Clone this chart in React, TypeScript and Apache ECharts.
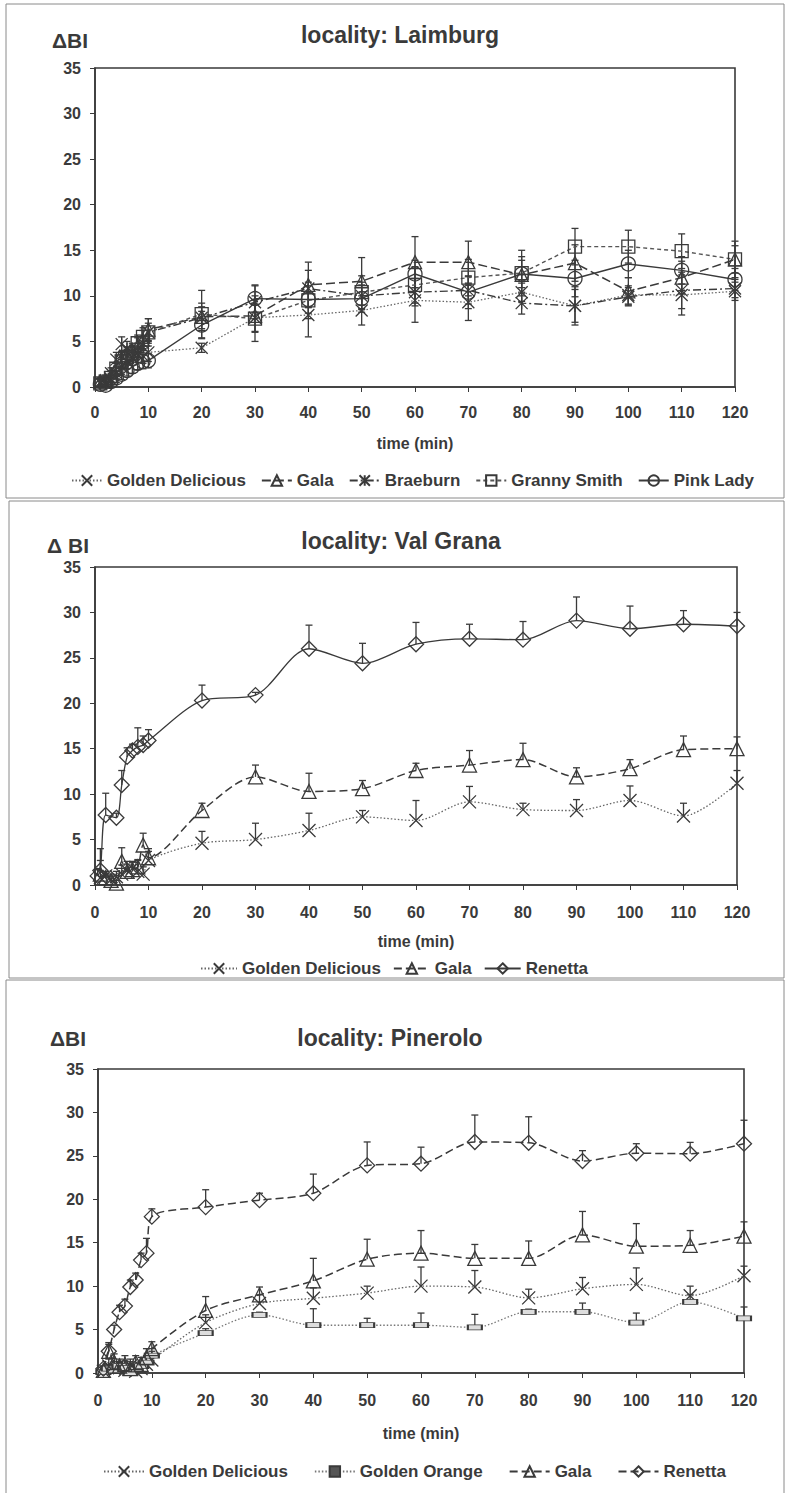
import React, { useEffect, useRef } from "react";
import * as echarts from "echarts";

// ---------- data ----------
const EARLY_TIMES = [1, 2, 3, 4, 5, 6, 7, 8, 9, 10];
const LATE_TIMES = [20, 30, 40, 50, 60, 70, 80, 90, 100, 110, 120];
const TIMES = [...EARLY_TIMES, ...LATE_TIMES];
const RENETTA_VG_TIMES = [0.5, 1, 2, 4, 5, 6, 7, 8, 9, 10, ...LATE_TIMES];

const X_LABEL = "time (min)";
const TITLES = ["locality: Laimburg", "locality: Val Grana", "locality: Pinerolo"];
const Y_NAMES = ["ΔBI", "Δ BI", "ΔBI"];

// Laimburg
const p1GoldenDelicious = [0.5, 0.4, 0.8, 1.5, 2.2, 2.8, 3.2, 3.5, 3.4, 3.8, 4.3, 7.6, 7.9, 8.4, 9.5, 9.3, 10.4, 8.9, 10.1, 10.1, 10.5];
const p1GoldenDeliciousErr = [0.4, 0.4, 0.5, 0.6, 0.8, 0.8, 0.8, 0.8, 0.8, 1.0, 0.5, 1.5, 2.4, 1.6, 2.4, 2.0, 1.0, 2.1, 1.0, 2.2, 1.0];
const p1Gala = [0.6, 0.8, 1.2, 2.0, 3.0, 3.5, 4.0, 4.5, 5.2, 6.3, 7.7, 7.8, 11.2, 11.6, 13.7, 13.7, 12.3, 13.6, 10.5, 12.0, 14.0];
const p1GalaErr = [0.4, 0.5, 0.6, 0.6, 0.8, 0.8, 0.8, 0.9, 1.0, 1.2, 1.5, 1.8, 2.5, 2.6, 2.8, 2.3, 2.0, 2.0, 1.5, 1.8, 1.5];
const p1Braeburn = [0.5, 0.7, 1.5, 3.0, 4.7, 4.2, 3.8, 4.0, 4.8, 6.0, 7.6, 9.3, 10.8, 10.0, 10.4, 10.6, 9.2, 8.9, 9.9, 10.6, 10.8];
const p1BraeburnErr = [0.4, 0.5, 0.6, 0.8, 0.8, 0.8, 0.8, 0.8, 0.8, 1.0, 1.2, 1.8, 2.0, 1.5, 1.5, 1.5, 1.2, 1.8, 1.0, 2.0, 1.0];
const p1GrannySmith = [0.4, 0.6, 1.0, 2.0, 2.8, 3.3, 3.7, 4.8, 5.5, 6.0, 8.0, 7.5, 9.5, 10.4, 11.2, 12.0, 12.5, 15.4, 15.4, 14.9, 14.0];
const p1GrannySmithErr = [0.4, 0.5, 0.5, 0.6, 0.8, 0.8, 0.8, 0.9, 1.0, 1.5, 2.6, 2.5, 2.0, 1.8, 2.0, 2.0, 2.5, 2.0, 1.8, 1.9, 2.0];
const p1PinkLady = [0.3, 0.2, 0.6, 1.0, 1.4, 1.8, 2.2, 2.6, 2.8, 2.9, 6.8, 9.7, 9.6, 9.7, 12.4, 10.4, 12.4, 11.9, 13.5, 12.8, 11.8];
const p1PinkLadyErr = [0.3, 0.3, 0.4, 0.5, 0.6, 0.6, 0.7, 0.7, 0.8, 0.8, 1.5, 1.5, 1.5, 1.5, 1.5, 1.8, 1.5, 2.0, 1.5, 1.5, 1.2];

// Val Grana
const p2GoldenDelicious = [0.8, 1.0, 0.6, 0.9, 1.2, 1.6, 1.8, 1.5, 1.2, 2.7, 4.6, 5.0, 6.0, 7.5, 7.1, 9.15, 8.3, 8.2, 9.3, 7.6, 11.2];
const p2GoldenDeliciousErr = [0.8, 0.5, 0.6, 0.6, 1.0, 1.0, 0.8, 1.2, 0.8, 1.0, 1.3, 1.8, 1.9, 0.7, 2.2, 1.7, 0.7, 1.2, 1.6, 1.4, 1.4];
const p2Gala = [1.2, 0.8, 0.5, 0.2, 2.6, 1.5, 1.7, 2.0, 4.4, 3.0, 8.2, 11.9, 10.3, 10.6, 12.6, 13.2, 13.8, 11.9, 12.8, 14.9, 15.0];
const p2GalaErr = [1.5, 0.5, 0.5, 0.3, 1.5, 0.8, 0.8, 0.8, 1.3, 1.0, 0.8, 1.3, 2.0, 0.9, 0.8, 1.6, 1.8, 1.0, 1.0, 1.5, 1.3];
const p2Renetta = [1.0, 1.6, 7.7, 7.4, 11.0, 14.1, 14.8, 15.2, 15.4, 15.9, 20.3, 20.9, 26.0, 24.4, 26.5, 27.1, 27.0, 29.1, 28.2, 28.7, 28.5];
const p2RenettaErr = [0.8, 2.4, 2.4, 0.5, 1.6, 1.0, 0.7, 2.1, 1.0, 1.2, 1.7, 0.3, 2.6, 2.2, 2.4, 1.6, 2.0, 2.6, 2.5, 1.5, 1.5];

// Pinerolo
const p3GoldenDelicious = [0.2, 0.8, 0.5, 0.6, 0.3, 0.8, 0.2, 0.5, 1.0, 1.5, 5.8, 8.0, 8.6, 9.2, 10.0, 9.9, 8.65, 9.7, 10.2, 8.9, 11.2];
const p3GoldenDeliciousErr = [0.5, 0.8, 0.8, 0.6, 0.8, 0.8, 0.8, 0.8, 1.0, 1.0, 0.9, 1.0, 1.2, 0.8, 2.2, 1.9, 1.0, 1.3, 1.9, 1.1, 1.1];
const p3GoldenOrange = [0.1, 0.5, 0.3, 0.8, 0.6, 0.0, 0.4, 0.8, 1.2, 2.0, 4.6, 6.7, 5.5, 5.5, 5.5, 5.25, 7.05, 7.05, 5.8, 8.2, 6.3];
const p3GoldenOrangeErr = [0.3, 0.5, 0.5, 0.5, 0.8, 0.5, 0.5, 0.5, 0.8, 0.8, 0.5, 0.3, 1.9, 0.8, 1.4, 1.5, 0.3, 1.0, 1.1, 0.8, 1.3];
const p3Gala = [0.3, 2.5, 1.2, 0.8, 1.0, 0.5, 1.2, 1.0, 1.8, 2.8, 7.2, 9.0, 10.6, 13.1, 13.8, 13.2, 13.2, 15.9, 14.6, 14.7, 15.75];
const p3GalaErr = [0.5, 1.0, 1.0, 0.8, 1.0, 0.8, 0.8, 0.8, 1.0, 0.8, 1.6, 0.9, 2.6, 2.3, 2.6, 1.6, 2.0, 2.7, 2.6, 1.7, 1.65];
const p3Renetta = [0.5, 2.5, 5.0, 7.0, 7.7, 9.9, 10.7, 13.0, 13.8, 18.0, 19.1, 19.9, 20.7, 23.9, 24.1, 26.6, 26.5, 24.4, 25.3, 25.25, 26.4];
const p3RenettaErr = [0.3, 0.8, 0.5, 0.8, 0.8, 0.8, 0.8, 0.8, 1.7, 0.9, 2.0, 0.8, 2.2, 2.7, 1.9, 3.1, 3.0, 1.2, 1.1, 1.3, 2.7];

// ---------- styling ----------
const FONT = "'Liberation Sans', Arial, sans-serif";
const INK = "#3a3a3a";
const SYM_X = "path://M0,0L10,10M10,0L0,10";
const SYM_AST = "path://M0,0L10,10M10,0L0,10M5,0L5,10";

type Spec = {
  name: string;
  times: number[];
  values: number[];
  errors: number[];
  symbol: string;
  symbolSize: number | number[];
  dash: any;
  width: number;
  lineColor: string;
  fill: string;
};

function errRender(both: boolean) {
  return (_params: any, api: any) => {
    const x = api.value(0);
    const y = api.value(1);
    const e = api.value(2);
    const p0 = api.coord([x, y]);
    const p1 = api.coord([x, y + e]);
    const st = { stroke: INK, lineWidth: 1.3 };
    const cap = 7;
    const children: any[] = [
      { type: "line", shape: { x1: p0[0], y1: p0[1], x2: p1[0], y2: p1[1] }, style: st },
      { type: "line", shape: { x1: p1[0] - cap / 2, y1: p1[1], x2: p1[0] + cap / 2, y2: p1[1] }, style: st },
    ];
    if (both) {
      const p2 = api.coord([x, Math.max(0, y - e)]);
      children.push(
        { type: "line", shape: { x1: p0[0], y1: p0[1], x2: p2[0], y2: p2[1] }, style: st },
        { type: "line", shape: { x1: p2[0] - cap / 2, y1: p2[1], x2: p2[0] + cap / 2, y2: p2[1] }, style: st }
      );
    }
    return { type: "group", children };
  };
}

function makeSeries(panel: number, s: Spec, smooth: number | boolean, both: boolean) {
  return [
    {
      type: "custom",
      name: s.name + " (error)",
      xAxisIndex: panel,
      yAxisIndex: panel,
      renderItem: errRender(both),
      data: s.times.map((t, i) => [t, s.values[i], s.errors[i]]),
      encode: { x: 0, y: 1 },
      silent: true,
      z: 2,
    },
    {
      type: "line",
      name: s.name,
      xAxisIndex: panel,
      yAxisIndex: panel,
      data: s.times.map((t, i) => [t, s.values[i]]),
      smooth,
      symbol: s.symbol,
      symbolSize: s.symbolSize,
      lineStyle: { color: s.lineColor, width: s.width, type: s.dash },
      itemStyle: { color: s.fill, borderColor: INK, borderWidth: 1.3 },
      z: 3,
    },
  ];
}

const GRIDS = [
  { left: 95, top: 68, width: 640, height: 319 },
  { left: 95, top: 567, width: 642, height: 318 },
  { left: 98, top: 1069, width: 646, height: 304 },
];
const LABEL_MARGIN = [17, 19, 19];
const NAME_GAP = [48, 48, 52];

function buildOption(): any {
  const textBase = { color: INK, fontFamily: FONT, fontWeight: "bold" };

  const p1: Spec[] = [
    { name: "Golden Delicious", times: TIMES, values: p1GoldenDelicious, errors: p1GoldenDeliciousErr, symbol: SYM_X, symbolSize: 12, dash: [1.5, 2], width: 1.3, lineColor: "#666", fill: "none" },
    { name: "Gala", times: TIMES, values: p1Gala, errors: p1GalaErr, symbol: "triangle", symbolSize: 13, dash: [9, 4], width: 1.5, lineColor: INK, fill: "none" },
    { name: "Braeburn", times: TIMES, values: p1Braeburn, errors: p1BraeburnErr, symbol: SYM_AST, symbolSize: 12, dash: [8, 3, 2, 3], width: 1.4, lineColor: INK, fill: "none" },
    { name: "Granny Smith", times: TIMES, values: p1GrannySmith, errors: p1GrannySmithErr, symbol: "rect", symbolSize: 13, dash: [4, 3], width: 1.4, lineColor: "#555", fill: "none" },
    { name: "Pink Lady", times: TIMES, values: p1PinkLady, errors: p1PinkLadyErr, symbol: "circle", symbolSize: 14, dash: "solid", width: 1.4, lineColor: INK, fill: "none" },
  ];
  const p2: Spec[] = [
    { name: "Golden Delicious", times: TIMES, values: p2GoldenDelicious, errors: p2GoldenDeliciousErr, symbol: SYM_X, symbolSize: 13, dash: [1.5, 2], width: 1.3, lineColor: "#666", fill: "none" },
    { name: "Gala", times: TIMES, values: p2Gala, errors: p2GalaErr, symbol: "triangle", symbolSize: 14, dash: [8, 4], width: 1.5, lineColor: INK, fill: "none" },
    { name: "Renetta", times: RENETTA_VG_TIMES, values: p2Renetta, errors: p2RenettaErr, symbol: "diamond", symbolSize: 15, dash: "solid", width: 1.3, lineColor: INK, fill: "none" },
  ];
  const p3: Spec[] = [
    { name: "Golden Delicious", times: TIMES, values: p3GoldenDelicious, errors: p3GoldenDeliciousErr, symbol: SYM_X, symbolSize: 13, dash: [1.5, 2], width: 1.3, lineColor: "#666", fill: "none" },
    { name: "Golden Orange", times: TIMES, values: p3GoldenOrange, errors: p3GoldenOrangeErr, symbol: "rect", symbolSize: [14, 5], dash: [1.5, 2], width: 1.3, lineColor: "#777", fill: "#ddd" },
    { name: "Gala", times: TIMES, values: p3Gala, errors: p3GalaErr, symbol: "triangle", symbolSize: 14, dash: [8, 4], width: 1.5, lineColor: INK, fill: "none" },
    { name: "Renetta", times: TIMES, values: p3Renetta, errors: p3RenettaErr, symbol: "diamond", symbolSize: 15, dash: [8, 4], width: 1.5, lineColor: INK, fill: "none" },
  ];

  const series: any[] = [];
  p1.forEach((s) => series.push(...makeSeries(0, s, false, true)));
  p2.forEach((s) => series.push(...makeSeries(1, s, 0.3, false)));
  p3.forEach((s) => series.push(...makeSeries(2, s, 0.3, false)));

  const xAxis = GRIDS.map((_, i) => ({
    type: "value",
    gridIndex: i,
    min: 0,
    max: 120,
    interval: 10,
    axisLine: { show: true, lineStyle: { color: INK, width: 1.6 } },
    axisTick: { show: true, length: 5, lineStyle: { color: INK, width: 1 } },
    axisLabel: { ...textBase, fontSize: 16, margin: LABEL_MARGIN[i] },
    splitLine: { show: false },
    name: X_LABEL,
    nameLocation: "middle",
    nameGap: NAME_GAP[i],
    nameTextStyle: { ...textBase, fontSize: 16 },
  }));
  const yAxis = GRIDS.map((_, i) => ({
    type: "value",
    gridIndex: i,
    min: 0,
    max: 35,
    interval: 5,
    axisLine: { show: true, lineStyle: { color: INK, width: 1.6 } },
    axisTick: { show: true, length: 5, lineStyle: { color: INK, width: 1 } },
    axisLabel: { ...textBase, fontSize: 16, margin: 14 },
    splitLine: { show: false },
  }));

  const legendText = { ...textBase, fontSize: 17 };
  const legend = [
    {
      left: 66, top: 467, itemWidth: 30, itemHeight: 13, itemGap: 15,
      textStyle: legendText, selectedMode: false,
      data: p1.map((s) => ({ name: s.name })),
    },
    {
      left: 195, top: 955, itemWidth: 36, itemHeight: 13, itemGap: 12,
      textStyle: legendText, selectedMode: false,
      data: [
        { name: "Golden Delicious" },
        { name: "Gala", lineStyle: { type: [8, 4] } },
        { name: "Renetta", lineStyle: { type: "solid" } },
      ],
    },
    {
      left: 98, top: 1458, itemWidth: 40, itemHeight: 13, itemGap: 26,
      textStyle: legendText, selectedMode: false,
      data: [
        { name: "Golden Delicious" },
        { name: "Golden Orange", itemStyle: { color: "#555" } },
        { name: "Gala", lineStyle: { type: [8, 4] } },
        { name: "Renetta", lineStyle: { type: [8, 4] } },
      ],
    },
  ];

  const titlePos = [
    [400, 35],
    [401, 541],
    [390, 1038],
  ];
  const yNamePos = [
    [70, 40],
    [68, 545],
    [68, 1038],
  ];
  const frames = [
    [6, 4, 778, 494],
    [9, 501, 775, 477],
    [6, 980, 778, 530],
  ];

  const graphic: any[] = [];
  frames.forEach((f) =>
    graphic.push({
      type: "rect",
      silent: true,
      shape: { x: f[0], y: f[1], width: f[2], height: f[3] },
      style: { fill: "none", stroke: "#8a8a8a", lineWidth: 1 },
    })
  );
  TITLES.forEach((t, i) =>
    graphic.push({
      type: "text",
      x: titlePos[i][0],
      y: titlePos[i][1],
      style: {
        text: t,
        fill: INK,
        font: `bold 23px ${FONT}`,
        align: "center",
        verticalAlign: "middle",
        textAlign: "center",
        textVerticalAlign: "middle",
      },
    })
  );
  Y_NAMES.forEach((t, i) =>
    graphic.push({
      type: "text",
      x: yNamePos[i][0],
      y: yNamePos[i][1],
      style: {
        text: t,
        fill: INK,
        font: `bold 21px ${FONT}`,
        align: "center",
        verticalAlign: "middle",
        textAlign: "center",
        textVerticalAlign: "middle",
      },
    })
  );

  return {
    animation: false,
    backgroundColor: "#fff",
    textStyle: { fontFamily: FONT },
    grid: GRIDS.map((g) => ({ ...g, show: true, borderColor: INK, borderWidth: 1.6, backgroundColor: "transparent" })),
    xAxis,
    yAxis,
    legend,
    series,
    graphic,
  };
}

export default function App() {
  const ref = useRef<HTMLDivElement>(null);
  useEffect(() => {
    const chart = echarts.init(ref.current as HTMLDivElement, null, { renderer: "svg" });
    chart.setOption(buildOption());
    return () => chart.dispose();
  }, []);
  return (
    <div
      ref={ref}
      style={{ position: "absolute", left: 0, top: 0, width: 785, height: 1493, background: "#fff" }}
    />
  );
}
